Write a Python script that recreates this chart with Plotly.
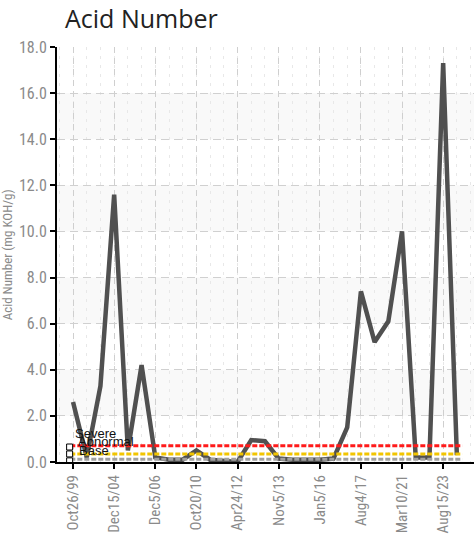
import plotly.graph_objects as go

# ---- data ----
tick_labels = ["Oct26/99", "Dec15/04", "Dec5/06", "Oct20/10", "Apr24/12",
               "Nov5/13", "Jan5/16", "Aug4/17", "Mar10/21", "Aug15/23"]
acid_number = [2.6, 0.2, 3.3, 11.6, 0.5, 4.2, 0.2, 0.1, 0.1, 0.5,
               0.1, 0.05, 0.0, 0.95, 0.9, 0.15, 0.1, 0.1, 0.1, 0.15,
               1.5, 7.4, 5.2, 6.1, 10.0, 0.2, 0.2, 17.3, 0.3]
limit_names = ["Severe", "Abnormal", "Base"]
limit_values = [0.7, 0.35, 0.12]
limit_colors = ["#ff1a1a", "#f2c500", "#a0a0a0"]

n = len(acid_number)
xs = list(range(n))
tick_pos = xs[::3]

narrow = "Liberation Sans Narrow, Roboto Condensed, Arial Narrow, sans-serif"

fig = go.Figure()

# alternating bands
for lo in range(2, 18, 4):
    fig.add_shape(type="rect", xref="paper", yref="y", x0=0, x1=1, y0=lo, y1=lo + 2,
                  fillcolor="#f9f9f9", line_width=0, layer="below")

fig.add_trace(go.Scatter(x=xs, y=acid_number, mode="lines",
                         line=dict(color="#505050", width=4.5), hoverinfo="skip"))

for name, val, col in zip(limit_names, limit_values, limit_colors):
    fig.add_trace(go.Scatter(x=[-0.2, n - 0.6], y=[val, val], mode="lines",
                             line=dict(color=col, width=3, dash="5px,2px"), hoverinfo="skip"))

fig.add_trace(go.Scatter(x=[-0.25] * 3, y=[0.65, 0.35, 0.05], mode="markers",
                         marker=dict(symbol="square", size=6, color="white",
                                     line=dict(color="black", width=1)), hoverinfo="skip"))

label_pos = [(0.0, 1.25), (0.25, 0.88), (0.3, 0.52)]
for name, (lx, ly) in zip(limit_names, label_pos):
    fig.add_annotation(x=lx, y=ly, text=name, showarrow=False, xanchor="left",
                       yanchor="middle", font=dict(size=13, color="#111", family="Liberation Sans, Arial, sans-serif"))

fig.add_annotation(xref="paper", yref="paper", x=-0.118, y=0.5, text="Acid Number (mg KOH/g)",
                   textangle=-90, showarrow=False, xanchor="center", yanchor="middle",
                   font=dict(size=13, color="#8a8a8a", family=narrow))

fig.update_layout(
    width=474, height=549,
    margin=dict(l=57, r=0, t=47, b=87),
    paper_bgcolor="white", plot_bgcolor="white",
    showlegend=False,
    title=dict(text="Acid Number", x=65 / 474, xanchor="left", y=1 - 19 / 549, yanchor="middle",
               font=dict(size=25, color="#222", family="Open Sans, Noto Sans, sans-serif")),
)

fig.update_xaxes(
    range=[-1.17, 29.25], tickmode="array", tickvals=tick_pos, ticktext=tick_labels,
    tickangle=-90, tickfont=dict(size=15, color="#8a8a8a", family=narrow),
    showline=True, linecolor="black", linewidth=2,
    ticks="outside", ticklen=5, tickcolor="black", tickwidth=1.5,
    showgrid=True, gridcolor="#cfcfcf", griddash="6px,5px", gridwidth=1,
    minor=dict(dtick=1, tick0=0, showgrid=True, gridcolor="#e8e8e8", griddash="3px,6px",
               gridwidth=1, ticks=""),
    zeroline=False, fixedrange=True,
)
fig.update_yaxes(
    range=[0, 18], tickmode="array", tickvals=list(range(0, 19, 2)),
    ticktext=[f"{v:.1f}" for v in range(0, 19, 2)],
    tickfont=dict(size=16, color="#8a8a8a", family=narrow),
    showline=True, linecolor="black", linewidth=2,
    ticks="outside", ticklen=5, tickcolor="black", tickwidth=1.5,
    showgrid=True, gridcolor="#d0d0d0", griddash="8px,5px", gridwidth=1,
    zeroline=False, fixedrange=True,
)

fig.write_html("out.html")
